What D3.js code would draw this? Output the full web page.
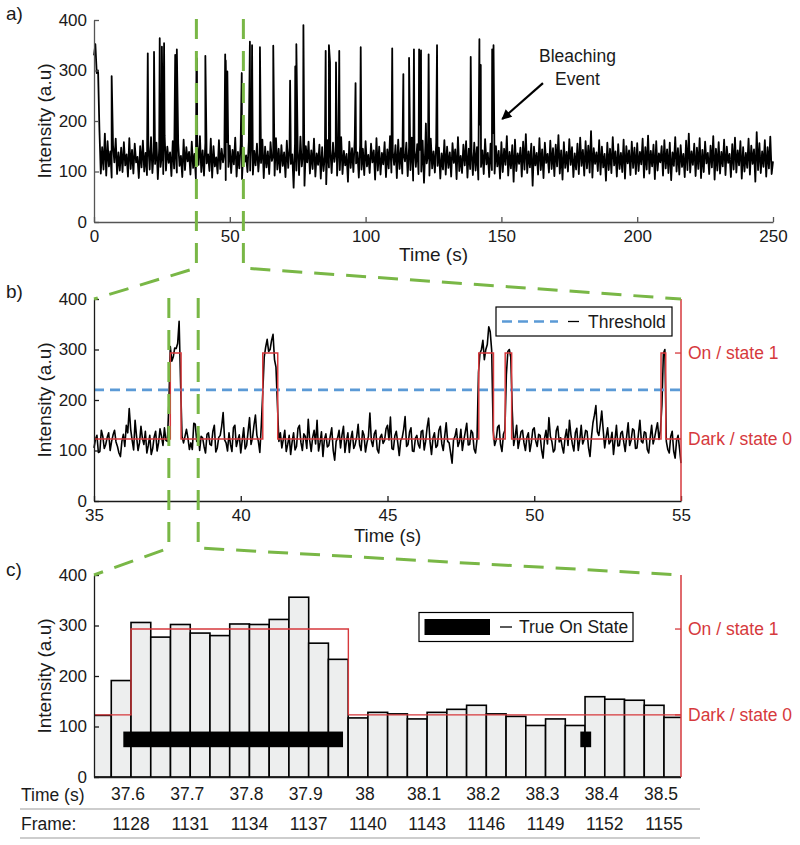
<!DOCTYPE html>
<html><head><meta charset="utf-8">
<script src="https://cdn.jsdelivr.net/npm/d3@7"></script>
<style>
body{margin:0;background:#fff}
svg{display:block}
text{font-family:"Liberation Sans",Arial,Helvetica,sans-serif}
</style>
</head><body>
<svg id="chart" width="800" height="845"></svg>
<script>
// ---------------- DATA ----------------
// Panel a: full trace, sampled every 0.5 s from 0 to 250 s
const traceAStep = 0.5;
const traceA = [
330,352,295,300,182,96,148,104,175,92,160,110,140,88,152,118,165,95,138,102,
147,99,158,112,134,90,166,105,143,96,155,118,129,87,150,108,161,100,137,93,
152,104,168,97,141,115,157,85,146,109,133,95,171,102,149,117,138,91,160,106,
144,98,156,111,131,89,163,103,148,120,139,94,159,107,135,86,153,113,170,99,
142,92,157,116,134,101,165,88,150,110,128,96,162,105,145,118,137,83,158,109,
151,97,143,114,167,90,139,106,154,85,147,119,132,99,160,102,172,94,141,112,
155,100,136,117,163,87,149,108,140,95,158,121,133,92,166,104,145,98,152,111,
138,89,161,107,147,115,134,68,156,102,143,93,169,110,137,72,150,118,159,96,
142,105,165,90,136,113,153,86,148,101,131,75,162,108,144,97,157,119,139,92,
150,103,168,95,141,112,135,80,159,107,146,99,164,116,138,88,153,104,145,93,
160,110,133,97,155,118,142,84,166,102,149,94,137,114,158,89,144,106,170,98,
139,113,152,87,163,105,146,96,135,120,157,91,148,103,167,82,141,109,154,95,
143,100,161,78,151,116,134,92,165,106,140,98,158,111,147,86,136,104,162,94,
149,107,138,90,156,117,144,85,168,101,131,97,153,112,160,88,145,105,139,93,
157,102,148,84,193,109,142,95,164,114,137,89,155,103,176,96,150,110,141,86,
158,99,145,113,170,92,139,106,152,80,163,101,136,115,147,90,159,104,174,97,
140,108,155,72,149,112,137,94,166,103,144,87,157,117,135,98,161,105,146,91,
153,110,172,96,142,84,158,107,139,100,164,113,148,89,136,104,155,95,167,111,
143,92,160,106,151,98,180,88,146,115,138,101,162,94,149,108,135,82,157,103,
145,97,168,112,140,90,154,105,137,99,163,86,150,116,142,93,159,107,147,95,
156,101,139,114,165,88,148,104,171,96,141,110,153,85,160,102,136,118,150,92,
162,106,144,97,157,83,138,111,168,100,146,94,152,109,135,89,161,103,175,98,
140,113,155,91,147,105,166,87,143,99,159,116,137,95,151,108,170,84,145,102,
158,96,139,110,163,93,149,117,135,89,154,104,167,98,142,112,160,86,148,100,
137,107,165,94,151,115,144,80,178,103,156,97,140,109,162,90,148,106,169,95,
120
];
// Panel a: blinking spikes (time s, peak intensity)
const spikeTimes = [6.5,19.8,22.1,24.2,25.0,25.8,29.9,30.5,37.7,37.9,41.0,48.3,48.5,49.1,54.4,
  57.4,58.2,61.1,66.0,72.2,74.1,74.5,77.1,85.3,86.5,86.9,89.1,90.3,96.3,98.2,109.8,113.9,116.0,
  117.8,119.7,120.4,122.2,123.2,126.3,138.7,141.9,142.4,146.6,147.1];
const spikePeaks = [289,334,337,364,347,354,331,342,300,324,329,332,320,298,295,
  357,350,346,349,280,308,352,390,339,350,316,316,339,275,346,344,293,325,
  342,342,340,195,332,350,327,362,311,342,350];
const timeTicksA = [0,50,100,150,200,250];
const intensityTicks = [0,100,200,300,400];
const zoomWindowA = [37.7, 55];

// Panel b: trace from 35 s to 55 s, every 0.05 s (one row per second)
const traceBStart = 35, traceBStep = 0.05;
const traceB = [
105,122,130,96,98,140,128,104,112,126,135,100,118,131,140,117,108,95,88,118,
132,108,150,135,183,142,120,101,160,128,100,115,148,124,112,138,95,110,130,92,
104,127,138,99,115,143,128,110,145,120,118,191,306,277,285,303,302,312,356,233,
128,115,128,142,125,102,115,102,154,152,118,140,100,128,125,108,95,132,135,112,
110,138,150,97,105,126,130,148,175,121,115,99,135,112,98,145,150,108,120,131,
95,120,145,103,110,138,165,112,125,150,170,130,118,96,150,215,285,305,320,296,
300,318,330,280,265,190,118,135,105,122,140,98,112,130,92,117,135,101,108,144,
150,116,100,133,128,104,162,120,98,126,140,113,160,99,115,137,88,122,133,107,
110,129,145,100,81,118,125,140,105,131,148,96,118,135,96,123,138,104,112,127,
152,111,100,139,130,97,115,128,174,119,108,133,140,102,95,126,132,114,120,143,
150,121,166,104,102,129,138,115,90,120,125,142,167,108,112,136,145,99,98,124,
130,112,105,138,140,101,118,146,164,117,92,125,135,106,110,140,148,113,100,129,
155,118,115,96,75,121,128,143,108,117,142,100,120,137,154,111,112,140,135,103,
95,122,255,292,300,318,280,300,310,345,335,298,140,110,120,146,150,112,98,132,
140,250,296,300,285,180,110,128,150,104,120,137,140,115,100,126,135,98,115,141,
145,119,108,132,130,101,85,124,140,113,165,128,118,97,102,139,148,117,125,108,
95,126,142,110,160,131,112,99,135,144,100,121,150,113,122,140,138,105,88,127,
155,170,189,137,130,152,178,140,105,127,145,113,118,136,92,120,150,109,110,134,
138,116,98,129,155,110,120,143,140,104,105,133,160,118,115,137,135,102,95,126,
150,113,125,141,155,122,140,190,292,300,118,102,95,128,138,99,85,120,130,104,
75
];
const onStarts = [37.6, 40.75, 48.11, 49.01, 54.32];
const onEnds   = [37.967, 41.26, 48.61, 49.23, 54.48];
const darkLevel = 123, onLevel = 293, threshold = 220;
const timeTicksB = [35,40,45,50,55];
const zoomWindowB = [37.55, 38.55];

// Panel c: per-frame intensities, frames 1126..1155 (30 fps, frame 1128 at 37.6 s)
const firstFrame = 1126, refFrame = 1128, refTime = 37.6, fps = 30;
const frameValues = [122,191,306,277,302,285,280,303,302,312,356,265,233,117,128,
                     125,115,128,134,142,125,120,102,115,102,159,154,152,142,118];
const tableTimes  = [37.6,37.7,37.8,37.9,38.0,38.1,38.2,38.3,38.4,38.5];
const timeLabels  = ["37.6","37.7","37.8","37.9","38","38.1","38.2","38.3","38.4","38.5"];
const frameLabels = ["1128","1131","1134","1137","1140","1143","1146","1149","1152","1155"];
const trueOnStarts = [37.587, 38.3587];
const trueOnEnds   = [37.958, 38.377];
const trueOnBand   = [59, 90];

// ---------------- DRAWING ----------------
const svg = d3.select("#chart");
const RED = "#d6393c", GREEN = "#79b746", BLUE = "#5b9ad6";
const tickFont = 17, titleFont = 19;

const xA = d3.scaleLinear([0,250],[94,773]);
const yA = d3.scaleLinear([0,400],[222,20]);
const xB = d3.scaleLinear([35,55],[94,681]);
const yB = d3.scaleLinear([0,400],[501,299]);
const xC = d3.scaleLinear([37.5375,38.5287],[94,681]);
const yC = d3.scaleLinear([0,400],[777,575]);
const frameTime = f => refTime + (f - refFrame) / fps;

function styleAxis(g, color) {
  g.attr("font-size", null).attr("font-family", null);
  g.selectAll("text").attr("font-size", tickFont).attr("fill", "#1a1a1a");
  g.selectAll("line,path").attr("stroke", color).attr("stroke-width", 1.3);
}
function leftAxis(yS, x, color) {
  const g = svg.append("g").attr("transform", `translate(${x},0)`)
    .call(d3.axisLeft(yS).tickValues(intensityTicks).tickSizeInner(-5).tickSizeOuter(0).tickPadding(7));
  styleAxis(g, color);
}
function bottomAxis(xS, y, ticks, color) {
  const g = svg.append("g").attr("transform", `translate(0,${y})`)
    .call(d3.axisBottom(xS).tickValues(ticks).tickSizeInner(-5).tickSizeOuter(0).tickPadding(8));
  styleAxis(g, color);
}
function yTitle(cy) {
  svg.append("text").attr("transform", `translate(51,${cy}) rotate(-90)`)
    .attr("text-anchor","middle").attr("font-size", titleFont).attr("fill","#1a1a1a")
    .text("Intensity (a.u)");
}
function panelLabel(txt, y) {
  svg.append("text").attr("x", 6).attr("y", y).attr("font-size", titleFont).attr("fill","#1a1a1a").text(txt);
}
function stateAxis(yS, xS) {
  const x = xS.range()[1];
  svg.append("line").attr("x1", x).attr("x2", x).attr("y1", yS(0)).attr("y2", yS(400))
    .attr("stroke", RED).attr("stroke-width", 1.5);
  [[onLevel, "On / state 1"], [darkLevel, "Dark / state 0"]].forEach(([v, lab]) => {
    svg.append("line").attr("x1", x - 6).attr("x2", x).attr("y1", yS(v)).attr("y2", yS(v))
      .attr("stroke", RED).attr("stroke-width", 1.3);
    svg.append("text").attr("x", x + 7).attr("y", yS(v)).attr("dy", "0.35em")
      .attr("font-size", 17.5).attr("fill", RED).text(lab);
  });
}
function stepPoints(t0, t1) {
  const pts = [[t0, darkLevel]];
  onStarts.forEach((s, i) => {
    pts.push([s, darkLevel], [s, onLevel], [onEnds[i], onLevel], [onEnds[i], darkLevel]);
  });
  pts.push([t1, darkLevel]);
  return pts;
}
function clip(id, x0, y0, x1, y1) {
  svg.append("clipPath").attr("id", id).append("rect")
    .attr("x", x0).attr("y", y0).attr("width", x1 - x0).attr("height", y1 - y0);
}

// ---- Panel a ----
const ptsA = traceA.map((v, i) => [i * traceAStep, v])
  .concat(spikeTimes.map((t, i) => [t, spikePeaks[i]]))
  .sort((a, b) => a[0] - b[0]);
svg.append("path").datum(ptsA)
  .attr("d", d3.line().x(d => xA(d[0])).y(d => yA(d[1])))
  .attr("fill","none").attr("stroke","#000").attr("stroke-width",1.8).attr("stroke-linejoin","round");
leftAxis(yA, 94, "#555");
bottomAxis(xA, 222, timeTicksA, "#555");
yTitle(121);
panelLabel("a)", 20);
svg.append("text").attr("x", 433.5).attr("y", 261).attr("text-anchor","middle")
  .attr("font-size", titleFont).attr("fill","#1a1a1a").text("Time (s)");
// bleaching annotation
const ann = svg.append("text").attr("text-anchor","middle").attr("font-size",17.5).attr("fill","#1a1a1a");
ann.append("tspan").attr("x", xA(178)).attr("y", yA(316)).text("Bleaching");
ann.append("tspan").attr("x", xA(178)).attr("y", yA(272)).text("Event");
svg.append("defs").append("marker").attr("id","arrow").attr("viewBox","0 0 10 10")
  .attr("refX",9).attr("refY",5).attr("markerWidth",12).attr("markerHeight",10)
  .attr("markerUnits","userSpaceOnUse").attr("orient","auto")
  .append("path").attr("d","M0,0L10,5L0,10z").attr("fill","#000");
svg.append("line").attr("x1", xA(165.3)).attr("y1", yA(275)).attr("x2", xA(150.3)).attr("y2", yA(204))
  .attr("stroke","#000").attr("stroke-width",2.2).attr("marker-end","url(#arrow)");

// ---- Panel b ----
const ptsB = traceB.map((v, i) => [traceBStart + i * traceBStep, v]);
svg.append("path").datum(ptsB)
  .attr("d", d3.line().x(d => xB(d[0])).y(d => yB(d[1])))
  .attr("fill","none").attr("stroke","#000").attr("stroke-width",1.6).attr("stroke-linejoin","round");
svg.append("line").attr("x1", xB(35)).attr("x2", xB(55)).attr("y1", yB(threshold)).attr("y2", yB(threshold))
  .attr("stroke", BLUE).attr("stroke-width", 2.6).attr("stroke-dasharray","10,6");
svg.append("path").datum(stepPoints(35, 55))
  .attr("d", d3.line().x(d => xB(d[0])).y(d => yB(d[1])))
  .attr("fill","none").attr("stroke",RED).attr("stroke-width",1.5);
leftAxis(yB, 94, "#1a1a1a");
bottomAxis(xB, 501, timeTicksB, "#1a1a1a");
stateAxis(yB, xB);
yTitle(400);
panelLabel("b)", 298);
svg.append("text").attr("x", 387.5).attr("y", 542).attr("text-anchor","middle")
  .attr("font-size", 18.5).attr("fill","#1a1a1a").text("Time (s)");
// legend b
const lb = svg.append("g");
lb.append("rect").attr("x",496).attr("y",307).attr("width",176).attr("height",29)
  .attr("fill","#fff").attr("stroke","#000").attr("stroke-width",1.2);
lb.append("line").attr("x1",502).attr("x2",558).attr("y1",321.5).attr("y2",321.5)
  .attr("stroke",BLUE).attr("stroke-width",2.6).attr("stroke-dasharray","10,6");
lb.append("line").attr("x1",568).attr("x2",579).attr("y1",321.5).attr("y2",321.5)
  .attr("stroke","#000").attr("stroke-width",1.3);
lb.append("text").attr("x",588).attr("y",321.5).attr("dy","0.35em").attr("font-size",17.5)
  .attr("fill","#1a1a1a").text("Threshold");

// ---- Panel c ----
clip("clipC", 94, 560, 681, 778);
const gc = svg.append("g").attr("clip-path","url(#clipC)");
gc.selectAll("rect.bar").data(frameValues).join("rect").attr("class","bar")
  .attr("x", (d, i) => xC(frameTime(firstFrame + i)))
  .attr("width", (d, i) => xC(frameTime(firstFrame + i + 1)) - xC(frameTime(firstFrame + i)))
  .attr("y", d => yC(d)).attr("height", d => yC(0) - yC(d))
  .attr("fill","#edeeee").attr("stroke","#000").attr("stroke-width",1.6);
gc.append("path").datum(stepPoints(37.4, 38.7))
  .attr("d", d3.line().x(d => xC(d[0])).y(d => yC(d[1])))
  .attr("fill","none").attr("stroke",RED).attr("stroke-width",1.4);
gc.selectAll("rect.true").data(trueOnStarts).join("rect").attr("class","true")
  .attr("x", d => xC(d)).attr("width", (d, i) => xC(trueOnEnds[i]) - xC(d))
  .attr("y", yC(trueOnBand[1])).attr("height", yC(trueOnBand[0]) - yC(trueOnBand[1]))
  .attr("fill","#000");
leftAxis(yC, 94, "#1a1a1a");
svg.append("line").attr("x1",94).attr("x2",681).attr("y1",yC(0)+0.5).attr("y2",yC(0)+0.5)
  .attr("stroke","#1a1a1a").attr("stroke-width",1.4);
stateAxis(yC, xC);
yTitle(676);
panelLabel("c)", 576);
// legend c
const lc = svg.append("g");
lc.append("rect").attr("x",419).attr("y",612.5).attr("width",214).attr("height",29)
  .attr("fill","#fff").attr("stroke","#000").attr("stroke-width",1.2);
lc.append("rect").attr("x",424.5).attr("y",619).attr("width",65.5).attr("height",16).attr("fill","#000");
lc.append("line").attr("x1",500).attr("x2",512).attr("y1",627).attr("y2",627)
  .attr("stroke","#000").attr("stroke-width",1.3);
lc.append("text").attr("x",519).attr("y",627).attr("dy","0.35em").attr("font-size",17.5)
  .attr("fill","#1a1a1a").text("True On State");
// table under c
svg.append("text").attr("x",21).attr("y",801).attr("font-size",17.5).attr("fill","#1a1a1a").text("Time (s)");
svg.append("text").attr("x",21).attr("y",830).attr("font-size",17.5).attr("fill","#1a1a1a").text("Frame:");
svg.selectAll("text.tl").data(tableTimes).join("text").attr("class","tl")
  .attr("x", d => xC(d) - 3).attr("y", 800).attr("text-anchor","middle")
  .attr("font-size",17.5).attr("fill","#1a1a1a").text((d, i) => timeLabels[i]);
svg.selectAll("text.fl").data(tableTimes).join("text").attr("class","fl")
  .attr("x", d => xC(d)).attr("y", 830).attr("text-anchor","middle")
  .attr("font-size",17.5).attr("fill","#1a1a1a").text((d, i) => frameLabels[i]);
[809, 838].forEach(y => svg.append("line").attr("x1",20).attr("x2",700).attr("y1",y).attr("y2",y)
  .attr("stroke","#bdbdbd").attr("stroke-width",1.5));

// ---- Green zoom connectors ----
function connector(xTop, yTop, yBend, xEnd, yEnd) {
  svg.append("path").attr("d", d3.line()([[xTop, yTop], [xTop, yBend], [xEnd, yEnd]]))
    .attr("fill","none").attr("stroke",GREEN).attr("stroke-width",3)
    .attr("stroke-dasharray","20,12");
}
connector(xA(zoomWindowA[0]), yA(400) - 1, yA(0) + 46, xB(35), yB(400));
connector(xA(zoomWindowA[1]), yA(400) - 1, yA(0) + 46, xB(55), yB(400));
connector(xB(zoomWindowB[0]), yB(400) - 1, yB(0) + 47, xC.range()[0], yC(400));
connector(xB(zoomWindowB[1]), yB(400) - 1, yB(0) + 47, xC.range()[1], yC(400));
</script>
</body></html>
